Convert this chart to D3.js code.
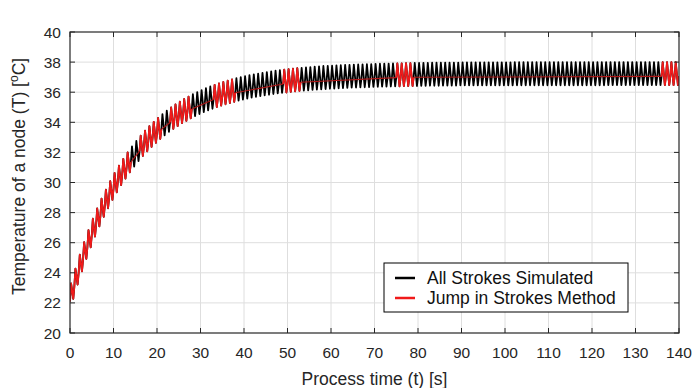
<!DOCTYPE html>
<html>
<head>
<meta charset="utf-8">
<script src="https://cdn.jsdelivr.net/npm/d3@7"></script>
<style>
  body { margin: 0; background: #fff; }
  svg { font-family: "Liberation Sans", Arial, sans-serif; }
  .tick-label { font-size: 15.5px; fill: #262626; }
  .axis-title { font-size: 17.5px; fill: #262626; }
  .legend-text { font-size: 17.5px; fill: #111; }
</style>
</head>
<body>
<div id="chart"></div>
<script>
// temperature at the start of each stroke (1 s per stroke), t = 0..140
const strokeStart = [
  22.10, 23.10, 24.03, 24.89, 25.70, 26.46, 27.16, 27.82, 28.44, 29.01,
  29.55, 30.05, 30.51, 30.95, 31.35, 31.73, 32.09, 32.42, 32.73, 33.01,
  33.28, 33.53, 33.77, 33.99, 34.19, 34.38, 34.56, 34.72, 34.88, 35.02,
  35.16, 35.29, 35.40, 35.51, 35.62, 35.71, 35.80, 35.88, 35.96, 36.04,
  36.10, 36.17, 36.23, 36.28, 36.33, 36.38, 36.42, 36.47, 36.51, 36.54,
  36.57, 36.61, 36.64, 36.66, 36.69, 36.71, 36.74, 36.76, 36.78, 36.80,
  36.81, 36.83, 36.84, 36.86, 36.87, 36.88, 36.89, 36.90, 36.91, 36.92,
  36.93, 36.94, 36.95, 36.95, 36.96, 36.97, 36.97, 36.98, 36.98, 36.99,
  36.99, 37.00, 37.00, 37.01, 37.01, 37.01, 37.02, 37.02, 37.02, 37.02,
  37.03, 37.03, 37.03, 37.03, 37.03, 37.03, 37.03, 37.03, 37.03, 37.03,
  37.03, 37.03, 37.04, 37.04, 37.04, 37.04, 37.04, 37.04, 37.04, 37.04,
  37.04, 37.04, 37.04, 37.04, 37.04, 37.04, 37.04, 37.04, 37.04, 37.04,
  37.04, 37.04, 37.04, 37.05, 37.05, 37.05, 37.05, 37.05, 37.05, 37.05,
  37.05, 37.05, 37.05, 37.05, 37.05, 37.05, 37.05, 37.05, 37.05, 37.05,
  37.05
];
// peak temperature reached in each stroke
const strokePeak = [
  23.30, 24.28, 25.20, 26.04, 26.84, 27.59, 28.28, 28.93, 29.53, 30.09,
  30.63, 31.12, 31.57, 32.00, 32.40, 32.77, 33.12, 33.45, 33.75, 34.03,
  34.29, 34.54, 34.78, 34.99, 35.19, 35.38, 35.55, 35.71, 35.87, 36.01,
  36.14, 36.27, 36.38, 36.49, 36.59, 36.68, 36.77, 36.85, 36.93, 37.00,
  37.07, 37.14, 37.19, 37.24, 37.29, 37.34, 37.38, 37.43, 37.47, 37.50,
  37.53, 37.57, 37.60, 37.62, 37.65, 37.67, 37.70, 37.72, 37.74, 37.75,
  37.76, 37.78, 37.79, 37.81, 37.82, 37.83, 37.84, 37.85, 37.86, 37.87,
  37.88, 37.89, 37.90, 37.90, 37.91, 37.92, 37.92, 37.93, 37.93, 37.94,
  37.94, 37.95, 37.95, 37.96, 37.96, 37.96, 37.97, 37.97, 37.97, 37.97,
  37.98, 37.98, 37.98, 37.98, 37.98, 37.98, 37.98, 37.98, 37.98, 37.98,
  37.98, 37.98, 37.99, 37.99, 37.99, 37.99, 37.99, 37.99, 37.99, 37.99,
  37.99, 37.99, 37.99, 37.99, 37.99, 37.99, 37.99, 37.99, 37.99, 37.99,
  37.99, 37.99, 37.99, 38.00, 38.00, 38.00, 38.00, 38.00, 38.00, 38.00,
  38.00, 38.00, 38.00, 38.00, 38.00, 38.00, 38.00, 38.00, 38.00, 38.00
];
// lowest temperature in each stroke
const strokeDip = [
  22.27, 23.22, 24.10, 24.92, 25.69, 26.41, 27.08, 27.71, 28.29, 28.84,
  29.35, 29.82, 30.26, 30.67, 31.06, 31.42, 31.76, 32.07, 32.36, 32.63,
  32.89, 33.13, 33.36, 33.56, 33.75, 33.94, 34.10, 34.26, 34.41, 34.55,
  34.68, 34.79, 34.90, 35.01, 35.11, 35.20, 35.28, 35.36, 35.44, 35.51,
  35.57, 35.64, 35.69, 35.74, 35.79, 35.83, 35.88, 35.92, 35.95, 35.98,
  36.02, 36.05, 36.08, 36.10, 36.12, 36.15, 36.17, 36.19, 36.21, 36.23,
  36.24, 36.26, 36.27, 36.29, 36.30, 36.31, 36.32, 36.33, 36.34, 36.35,
  36.36, 36.37, 36.37, 36.38, 36.39, 36.39, 36.40, 36.40, 36.41, 36.41,
  36.42, 36.42, 36.43, 36.43, 36.43, 36.44, 36.44, 36.44, 36.44, 36.45,
  36.45, 36.45, 36.45, 36.45, 36.45, 36.45, 36.45, 36.45, 36.45, 36.45,
  36.45, 36.45, 36.46, 36.46, 36.46, 36.46, 36.46, 36.46, 36.46, 36.46,
  36.46, 36.46, 36.46, 36.46, 36.46, 36.46, 36.46, 36.46, 36.46, 36.46,
  36.46, 36.46, 36.46, 36.47, 36.47, 36.47, 36.47, 36.47, 36.47, 36.47,
  36.47, 36.47, 36.47, 36.47, 36.47, 36.47, 36.47, 36.47, 36.47, 36.47
];
// strokes simulated by the jump method [first stroke, last stroke boundary]
const jumpSpans = [[0, 14], [16, 21], [23, 28], [33, 38], [49, 53], [75, 79], [136, 140]];

const xTicks = [0, 10, 20, 30, 40, 50, 60, 70, 80, 90, 100, 110, 120, 130, 140];
const yTicks = [20, 22, 24, 26, 28, 30, 32, 34, 36, 38, 40];
const legendLabels = ['All Strokes Simulated', 'Jump in Strokes Method'];
const seriesColors = ['#000000', '#f01a1a'];

const W = 700, H = 388;
const margin = { top: 32, right: 21, bottom: 55, left: 70 };
const plotW = W - margin.left - margin.right;
const plotH = H - margin.top - margin.bottom;

const svg = d3.select('#chart').append('svg')
  .attr('width', W)
  .attr('height', H);

const x = d3.scaleLinear().domain([0, 140]).range([margin.left, margin.left + plotW]);
const y = d3.scaleLinear().domain([20, 40]).range([margin.top + plotH, margin.top]);

// grid
svg.append('g').selectAll('line')
  .data(xTicks.slice(1, -1))
  .enter().append('line')
  .attr('x1', d => x(d)).attr('x2', d => x(d))
  .attr('y1', y(20)).attr('y2', y(40))
  .attr('stroke', '#dedede').attr('stroke-width', 1);
svg.append('g').selectAll('line')
  .data(yTicks.slice(1, -1))
  .enter().append('line')
  .attr('x1', x(0)).attr('x2', x(140))
  .attr('y1', d => y(d)).attr('y2', d => y(d))
  .attr('stroke', '#dedede').attr('stroke-width', 1);

svg.append('clipPath').attr('id', 'plot-clip')
  .append('rect')
  .attr('x', x(0)).attr('y', y(40))
  .attr('width', plotW).attr('height', plotH);

// build stroke-by-stroke points
function strokePoints(from, to) {
  const pts = [];
  for (let k = from; k < to; k++) {
    pts.push([k, strokeStart[k]]);
    pts.push([k + 0.25, strokePeak[k]]);
    pts.push([k + 0.75, strokeDip[k]]);
  }
  pts.push([to, strokeStart[to]]);
  return pts;
}

const allPts = strokePoints(0, 140);
// jumped intervals: straight link from the end of one span to the start of the next
const jumpLinks = [];
for (let i = 0; i < jumpSpans.length - 1; i++) {
  const a = jumpSpans[i][1], b = jumpSpans[i + 1][0];
  jumpLinks.push([[a, strokeStart[a]], [b, strokeStart[b]]]);
}

const line = d3.line().x(d => x(d[0])).y(d => y(d[1]));

const plot = svg.append('g').attr('clip-path', 'url(#plot-clip)');
plot.append('path')
  .datum(allPts)
  .attr('d', line)
  .attr('fill', 'none')
  .attr('stroke', seriesColors[0])
  .attr('stroke-width', 1.8)
  .attr('stroke-linejoin', 'round');
plot.selectAll('path.link')
  .data(jumpLinks)
  .enter().append('path')
  .attr('class', 'link')
  .attr('d', line)
  .attr('fill', 'none')
  .attr('stroke', '#b01818')
  .attr('stroke-width', 1.1);
plot.selectAll('path.span')
  .data(jumpSpans.map(s => strokePoints(s[0], s[1])))
  .enter().append('path')
  .attr('class', 'span')
  .attr('d', line)
  .attr('fill', 'none')
  .attr('stroke', seriesColors[1])
  .attr('stroke-width', 1.8)
  .attr('stroke-linejoin', 'round');

// frame and inward ticks
const axisColor = '#262626';
svg.append('rect')
  .attr('x', x(0)).attr('y', y(40))
  .attr('width', plotW).attr('height', plotH)
  .attr('fill', 'none').attr('stroke', axisColor).attr('stroke-width', 1.2);

const tickLen = 5;
const tg = svg.append('g').attr('stroke', axisColor).attr('stroke-width', 1);
xTicks.forEach(t => {
  tg.append('line').attr('x1', x(t)).attr('x2', x(t)).attr('y1', y(20)).attr('y2', y(20) - tickLen);
  tg.append('line').attr('x1', x(t)).attr('x2', x(t)).attr('y1', y(40)).attr('y2', y(40) + tickLen);
});
yTicks.forEach(t => {
  tg.append('line').attr('x1', x(0)).attr('x2', x(0) + tickLen).attr('y1', y(t)).attr('y2', y(t));
  tg.append('line').attr('x1', x(140)).attr('x2', x(140) - tickLen).attr('y1', y(t)).attr('y2', y(t));
});

svg.append('g').selectAll('text')
  .data(xTicks)
  .enter().append('text')
  .attr('class', 'tick-label')
  .attr('x', d => x(d))
  .attr('y', y(20) + 25)
  .attr('text-anchor', 'middle')
  .text(d => d);

svg.append('g').selectAll('text')
  .data(yTicks)
  .enter().append('text')
  .attr('class', 'tick-label')
  .attr('x', x(0) - 9)
  .attr('y', d => y(d) + 5.5)
  .attr('text-anchor', 'end')
  .text(d => d);

svg.append('text')
  .attr('class', 'axis-title')
  .attr('x', x(70))
  .attr('y', H - 3)
  .attr('text-anchor', 'middle')
  .text('Process time (t) [s]');

const yt = svg.append('text')
  .attr('class', 'axis-title')
  .attr('text-anchor', 'middle')
  .attr('transform', `translate(25,${y(30.4)}) rotate(-90)`);
yt.append('tspan').text('Temperature of a node (T) [');
yt.append('tspan').attr('font-size', '12px').attr('dy', -7).text('o');
yt.append('tspan').attr('dy', 7).text('C]');

// legend
const lg = svg.append('g').attr('transform', 'translate(384,263)');
lg.append('rect')
  .attr('width', 244).attr('height', 49)
  .attr('fill', '#fff').attr('stroke', '#000').attr('stroke-width', 1);
legendLabels.forEach((lab, i) => {
  const cy = 15 + i * 20;
  lg.append('line')
    .attr('x1', 11).attr('x2', 31).attr('y1', cy).attr('y2', cy)
    .attr('stroke', seriesColors[i]).attr('stroke-width', 2.5);
  lg.append('text')
    .attr('class', 'legend-text')
    .attr('x', 43).attr('y', cy + 6)
    .text(lab);
});
</script>
</body>
</html>
